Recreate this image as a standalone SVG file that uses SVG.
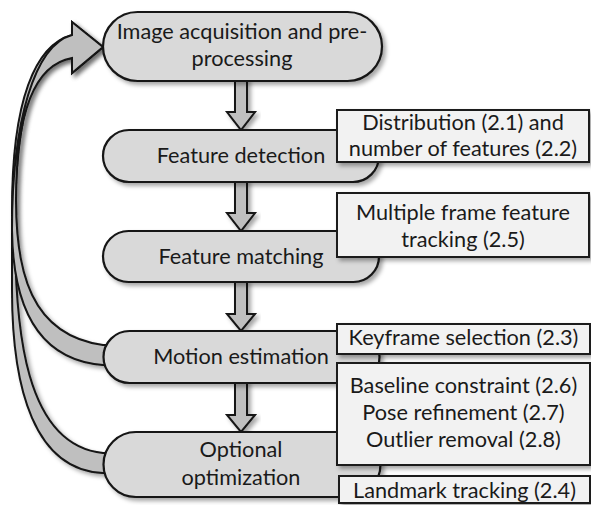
<svg xmlns="http://www.w3.org/2000/svg" width="591" height="505" viewBox="0 0 591 505">
  <defs>
    <filter id="sh" x="-10%" y="-10%" width="130%" height="140%">
      <feDropShadow dx="3" dy="3" stdDeviation="2.2" flood-color="#000" flood-opacity="0.35"/>
    </filter>
    <style>
      .node { fill: #d9d9d9; stroke: #141414; stroke-width: 2.2; filter: url(#sh); }
      .box { fill: #f2f2f2; stroke: #1e1e1e; stroke-width: 2; filter: url(#sh); }
      .arrow { fill: #bfbfbf; stroke: #141414; stroke-width: 2; stroke-linejoin: miter; filter: url(#sh); }
      text { font-family: Lato, "Liberation Sans", sans-serif; font-size: 21.7px; fill: #1a1a1a; text-anchor: middle; }
    </style>
  </defs>
  <rect width="591" height="505" fill="#ffffff"/>

  <g id="connectors">
    <path class="arrow" d="M115,473 L103,473 C35,470 12,390 12,290 L12,210 C12,100 35,45 72,35 L72,22 L103,47 L72,73 L72,58 C35,62 15,100 15,230 C15,330 25,445 103,453 L115,453 Z"/>
    <path class="arrow" d="M115,365 L103,365 C40,360 13,310 12,230 C12,120 35,45 72,35 L72,22 L103,47 L72,73 L72,58 C38,64 16,105 16,200 C16,270 30,335 103,345 L115,345 Z"/>
    <path class="arrow" d="M235,78 L247,78 L247,112 L255,112 L241,130 L227,112 L235,112 Z"/>
    <path class="arrow" d="M235,179 L247,179 L247,213 L255,213 L241,231 L227,213 L235,213 Z"/>
    <path class="arrow" d="M235,280 L247,280 L247,314 L255,314 L241,331 L227,314 L235,314 Z"/>
    <path class="arrow" d="M235,380 L247,380 L247,415 L255,415 L241,432 L227,415 L235,415 Z"/>
  </g>

  <g id="node-acquisition">
    <rect class="node" x="103" y="12" width="279" height="69" rx="34.5"/>
    <text x="242" y="38.5">Image acquisition and pre-</text>
    <text x="242" y="65.5">processing</text>
  </g>
  <g id="node-detection">
    <rect class="node" x="103" y="130" width="276" height="52" rx="26"/>
    <text x="241" y="162.5">Feature detection</text>
  </g>
  <g id="node-matching">
    <rect class="node" x="103" y="231" width="276" height="51" rx="25.5"/>
    <text x="241" y="263.5">Feature matching</text>
  </g>
  <g id="node-motion">
    <rect class="node" x="103.5" y="331" width="276" height="52" rx="26"/>
    <text x="241" y="364">Motion estimation</text>
  </g>
  <g id="node-optimization">
    <rect class="node" x="103.5" y="432" width="277" height="65" rx="32.5"/>
    <text x="241" y="457">Optional</text>
    <text x="241" y="485">optimization</text>
  </g>

  <g id="box-distribution">
    <rect class="box" x="337" y="110" width="252" height="52"/>
    <text x="463" y="130">Distribution (2.1) and</text>
    <text x="463" y="156">number of features (2.2)</text>
  </g>
  <g id="box-tracking">
    <rect class="box" x="337" y="193" width="252" height="64"/>
    <text x="463" y="219.5">Multiple frame feature</text>
    <text x="463" y="246.5">tracking (2.5)</text>
  </g>
  <g id="box-keyframe">
    <rect class="box" x="337" y="324" width="253" height="30"/>
    <text x="463.5" y="345">Keyframe selection (2.3)</text>
  </g>
  <g id="box-refinement">
    <rect class="box" x="337" y="363" width="253" height="102"/>
    <text x="463.5" y="393">Baseline constraint (2.6)</text>
    <text x="463.5" y="420">Pose refinement (2.7)</text>
    <text x="463.5" y="447">Outlier removal (2.8)</text>
  </g>
  <g id="box-landmark">
    <rect class="box" x="339" y="476" width="251" height="27"/>
    <text x="464.5" y="498">Landmark tracking (2.4)</text>
  </g>
</svg>
